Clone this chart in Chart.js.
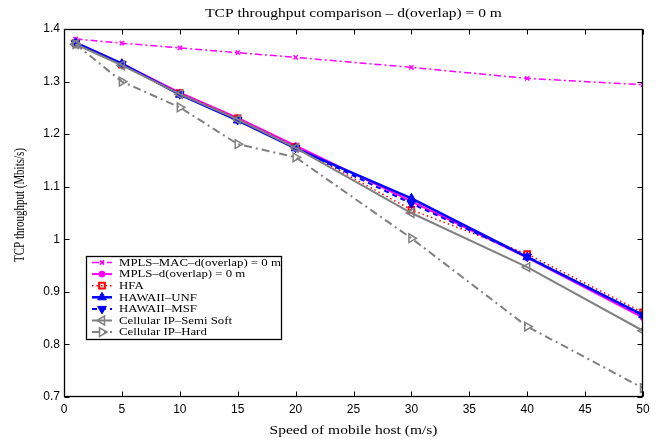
<!DOCTYPE html>
<html>
<head>
<meta charset="utf-8">
<script src="https://cdn.jsdelivr.net/npm/chart.js@4.4.1/dist/chart.umd.min.js"></script>
<style>
html,body{margin:0;padding:0;background:#fff;}
#wrap{width:660px;height:439px;position:relative;}
</style>
</head>
<body>
<div id="wrap"><canvas id="c" width="660" height="439"></canvas></div>
<script>
// ---- data ----
const speeds = [1, 5, 10, 15, 20, 30, 40, 50];
const seriesLabels = [
  'MPLS\u2013MAC\u2013d(overlap) = 0 m',
  'MPLS\u2013d(overlap) = 0 m',
  'HFA',
  'HAWAII\u2013UNF',
  'HAWAII\u2013MSF',
  'Cellular IP\u2013Semi Soft',
  'Cellular IP\u2013Hard'
];
const mplsMac  = [1.381, 1.373, 1.364, 1.355, 1.346, 1.327, 1.306, 1.294];
const mpls     = [1.374, 1.334, 1.279, 1.231, 1.178, 1.072, 0.965, 0.851];
const hfa      = [1.373, 1.332, 1.278, 1.230, 1.176, 1.056, 0.972, 0.861];
const hawaiiUnf= [1.374, 1.334, 1.275, 1.226, 1.173, 1.078, 0.966, 0.856];
const hawaiiMsf= [1.373, 1.333, 1.276, 1.227, 1.174, 1.068, 0.967, 0.855];
const cipSemi  = [1.371, 1.331, 1.276, 1.228, 1.174, 1.050, 0.947, 0.826];
const cipHard  = [1.371, 1.300, 1.251, 1.181, 1.156, 1.002, 0.834, 0.717];
const xTicks = [0, 5, 10, 15, 20, 25, 30, 35, 40, 45, 50];
const yTicks = [0.7, 0.8, 0.9, 1.0, 1.1, 1.2, 1.3, 1.4];
const titleText = 'TCP throughput comparison \u2013 d(overlap) = 0 m';
const xTitle = 'Speed of mobile host (m/s)';
const yTitle = 'TCP throughput (Mbits/s)';

// ---- styles ----
const MAG = '#ff00ff', RED = '#ff0000', BLUE = '#0000ff', GRAY = '#808080';
const SERIF = '"Liberation Serif", "Times New Roman", serif';
const styles = [
  {color: MAG, width: 1.5, dash: [7, 3, 2, 3], ps: 'crossRot', rot: 0, r: 3, fill: MAG, bw: 1.5},
  {color: MAG, width: 2, dash: [], ps: 'circle', rot: 0, r: 3, fill: MAG, bw: 1},
  {color: RED, width: 1.5, dash: [1.5, 3], ps: 'rect', rot: 0, r: 4, fill: 'rgba(0,0,0,0)', bw: 2},
  {color: BLUE, width: 2.5, dash: [], ps: 'triangle', rot: 0, r: 5, fill: BLUE, bw: 1},
  {color: BLUE, width: 2, dash: [5, 4], ps: 'triangle', rot: 180, r: 5, fill: BLUE, bw: 1},
  {color: GRAY, width: 2, dash: [], ps: 'triangle', rot: -90, r: 5, fill: 'rgba(0,0,0,0)', bw: 1.5},
  {color: GRAY, width: 2, dash: [8, 4, 2, 4], ps: 'triangle', rot: 90, r: 5, fill: 'rgba(0,0,0,0)', bw: 1.5}
];
const values = [mplsMac, mpls, hfa, hawaiiUnf, hawaiiMsf, cipSemi, cipHard];

const datasets = values.map((vals, i) => {
  const s = styles[i];
  return {
    label: seriesLabels[i],
    data: speeds.map((x, k) => ({x: x, y: vals[k]})),
    borderColor: s.color,
    borderWidth: s.width,
    borderDash: s.dash,
    pointStyle: s.ps,
    pointRotation: s.rot,
    pointRadius: s.r,
    pointBackgroundColor: s.fill,
    pointBorderColor: s.color,
    pointBorderWidth: s.bw,
    fill: false,
    tension: 0,
    order: values.length - 1 - i
  };
});

function drawMarker(ctx, s, x, y) {
  ctx.save();
  ctx.setLineDash([]);
  ctx.fillStyle = s.fill;
  ctx.strokeStyle = s.color;
  ctx.lineWidth = s.bw;
  if (Chart.helpers && Chart.helpers.drawPoint) {
    Chart.helpers.drawPoint(ctx, {pointStyle: s.ps, rotation: s.rot, radius: s.r, borderWidth: s.bw}, x, y);
  }
  ctx.restore();
}

// text squeezed slightly along the vertical, like the reference picture
function squeezedText(ctx, text, x, y, font, rot, sy) {
  ctx.save();
  ctx.translate(x, y);
  if (rot) ctx.rotate(rot);
  if (rot) ctx.scale(sy, 1); else ctx.scale(1, sy);
  ctx.font = font;
  ctx.fillStyle = '#000';
  ctx.textAlign = 'center';
  ctx.textBaseline = 'middle';
  ctx.fillText(text, 0, 0);
  ctx.restore();
}

const framePlugin = {
  id: 'frame',
  afterDraw(chart) {
    const ctx = chart.ctx;
    const a = chart.chartArea;
    const xs = chart.scales.x, ys = chart.scales.y;
    ctx.save();
    ctx.strokeStyle = '#000';
    ctx.lineWidth = 1;
    ctx.setLineDash([]);
    const L = Math.round(a.left) + 0.5, R = Math.round(a.right) - 0.5;
    const T = Math.round(a.top) + 0.5, B = Math.round(a.bottom) - 0.5;
    ctx.beginPath();
    const tl = 5;
    xTicks.forEach(v => {
      const px = Math.round(xs.getPixelForValue(v)) + 0.5;
      ctx.moveTo(px, B); ctx.lineTo(px, B - tl);
      ctx.moveTo(px, T); ctx.lineTo(px, T + tl);
    });
    yTicks.forEach(v => {
      const py = Math.round(ys.getPixelForValue(v)) + 0.5;
      ctx.moveTo(L, py); ctx.lineTo(L + tl, py);
      ctx.moveTo(R, py); ctx.lineTo(R - tl, py);
    });
    ctx.stroke();
    ctx.lineWidth = 1.3;
    ctx.strokeRect(L, T, R - L, B - T);

    // titles
    const cx = (a.left + a.right) / 2;
    const cy = (a.top + a.bottom) / 2;
    squeezedText(ctx, titleText, cx, 13.5, '15.5px ' + SERIF, 0, 0.85);
    squeezedText(ctx, xTitle, cx, 431, '15.5px ' + SERIF, 0, 0.85);
    squeezedText(ctx, yTitle, 20.5, cy - 8, '15px ' + SERIF, -Math.PI / 2, 0.73);

    // legend
    const bx = 86, by = 256, bw = 195, bh = 83;
    ctx.fillStyle = '#fff';
    ctx.fillRect(bx, by, bw, bh);
    ctx.lineWidth = 1.3;
    ctx.strokeStyle = '#000';
    ctx.strokeRect(bx + 0.5, by + 0.5, bw, bh);
    ctx.save();
    ctx.beginPath();
    ctx.rect(bx + 1, by + 1, bw - 1, bh - 1);
    ctx.clip();
    chart.data.datasets.forEach((ds, i) => {
      const s = styles[i];
      const y = by + 6.5 + i * 11.6;
      ctx.save();
      ctx.strokeStyle = s.color;
      ctx.lineWidth = s.width;
      ctx.setLineDash(s.dash);
      ctx.beginPath();
      ctx.moveTo(92, y); ctx.lineTo(112, y);
      ctx.stroke();
      ctx.restore();
      drawMarker(ctx, s, 102, y);
      ctx.save();
      ctx.translate(119, y + 0.5);
      ctx.scale(1, 0.85);
      ctx.font = '12.8px ' + SERIF;
      ctx.fillStyle = '#000';
      ctx.textAlign = 'left';
      ctx.textBaseline = 'middle';
      ctx.fillText(ds.label, 0, 0);
      ctx.restore();
    });
    ctx.restore();
    ctx.restore();
  }
};

Chart.defaults.color = '#000';
new Chart(document.getElementById('c'), {
  type: 'line',
  data: {datasets: datasets},
  plugins: [framePlugin],
  options: {
    responsive: false,
    animation: false,
    events: [],
    layout: {padding: {left: 0, right: 17, top: 29, bottom: 0}},
    plugins: {
      legend: {display: false},
      tooltip: {enabled: false},
      title: {display: false}
    },
    scales: {
      x: {
        type: 'linear',
        min: 0, max: 50,
        afterBuildTicks: (s) => { s.ticks = xTicks.map(v => ({value: v})); },
        afterFit: (s) => { s.height = 42; },
        grid: {display: false, drawTicks: false},
        border: {display: false},
        ticks: {
          padding: 5,
          maxRotation: 0,
          autoSkip: false,
          font: {family: '"Liberation Sans", Arial, sans-serif', size: 12},
          callback: (v) => String(v)
        }
      },
      y: {
        type: 'linear',
        min: 0.7, max: 1.4,
        afterBuildTicks: (s) => { s.ticks = yTicks.map(v => ({value: v})); },
        afterFit: (s) => { s.width = 64; },
        grid: {display: false, drawTicks: false},
        border: {display: false},
        ticks: {
          padding: 4,
          autoSkip: false,
          font: {family: '"Liberation Sans", Arial, sans-serif', size: 12},
          callback: (v) => String(parseFloat(Number(v).toFixed(1)))
        }
      }
    }
  }
});
</script>
</body>
</html>
